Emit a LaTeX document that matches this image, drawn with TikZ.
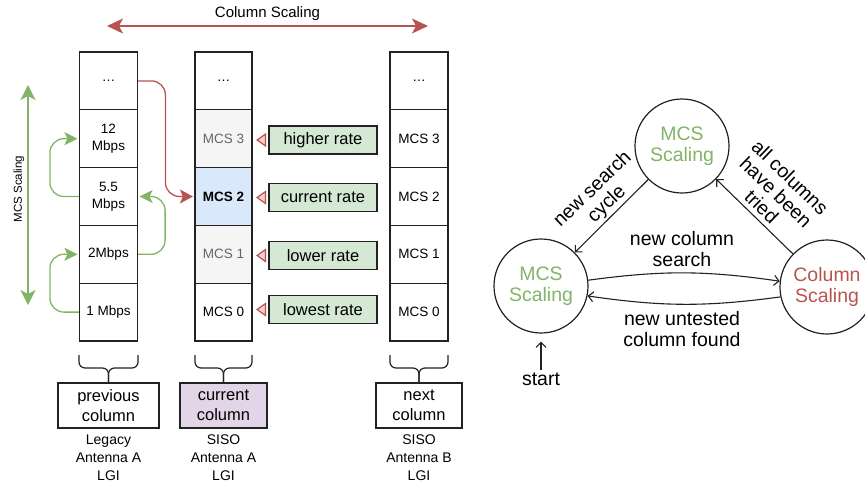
\documentclass[tikz,border=0pt]{standalone}
\usepackage{fontspec}
\setmainfont{Liberation Sans}
\usetikzlibrary{arrows.meta,calc}
\definecolor{dgreen}{HTML}{82B366}
\definecolor{dred}{HTML}{B85450}
\definecolor{lgreen}{HTML}{D5E8D4}
\definecolor{lblue}{HTML}{DAE8FC}
\definecolor{lgray}{HTML}{F5F5F5}
\definecolor{lpurple}{HTML}{E1D5E7}
\definecolor{lred}{HTML}{F8CECC}
\definecolor{tgray}{HTML}{666666}
\definecolor{bord}{HTML}{222222}
\begin{document}
\begin{tikzpicture}[x=1pt,y=-1pt,
  cellbox/.style={draw=bord, line width=1.2pt, minimum width=58pt, minimum height=57.8pt, inner sep=0pt, align=center, font=\fontsize{13.5}{17}\selectfont},
  ratebox/.style={draw=bord, fill=lgreen, line width=1.2pt, minimum width=108pt, minimum height=28pt, inner sep=0pt, font=\fontsize{16.5}{20}\selectfont},
  colbox/.style={draw=bord, line width=1.2pt, minimum height=45pt, inner sep=0pt, align=center, font=\fontsize{16.5}{20}\selectfont},
  undertext/.style={align=center, inner sep=0pt, font=\fontsize{14}{18}\selectfont},
  ratearrow/.style={draw=dred, line width=1.2pt, -{Triangle[length=10pt,width=14pt,fill=lred]}, shorten <=3.5pt, shorten >=3.5pt},
  greenarrow/.style={draw=dgreen, line width=1.3pt, rounded corners=14pt, -{Stealth[length=13pt,width=13pt,inset=3pt]}, shorten >=1.5pt},
  bracepath/.style={draw=bord, line width=1.2pt, rounded corners=6pt},
  state/.style={circle, draw=bord, line width=1.2pt, minimum size=94pt, inner sep=0pt, align=center, font=\fontsize{19.5}{20.5}\selectfont},
  trans/.style={draw=bord, line width=1.1pt, -{Straight Barb[length=5pt,width=10pt]}},
  translabel/.style={align=center, inner sep=0pt, font=\fontsize{19.5}{20.5}\selectfont}
]
\useasboundingbox (0,0) rectangle (865,485);

% column scaling arrow
\coordinate (csl) at (107,26);
\coordinate (csr) at (428,26);
\draw[dred, line width=1.3pt, {Stealth[length=16pt,width=15pt,inset=4pt]}-{Stealth[length=16pt,width=15pt,inset=4pt]}] (csl) -- (csr);
\node[inner sep=0pt, font=\fontsize{15}{18}\selectfont] (cstext) at (267.5,14) {Column Scaling};

% MCS scaling arrow
\coordinate (mst) at (28,85);
\coordinate (msb) at (28,305);
\draw[dgreen, line width=1.3pt, {Stealth[length=15pt,width=15pt,inset=4pt]}-{Stealth[length=15pt,width=15pt,inset=4pt]}] (mst) -- (msb);
\node[inner sep=0pt, rotate=90, font=\fontsize{11.5}{14}\selectfont] (mstext) at (19,189) {MCS Scaling};

% previous column
\node[cellbox] (a4) at (108.5,80.9) {\ldots};
\node[cellbox] (a3) at (108.5,138.7) {12\\Mbps};
\node[cellbox] (a2) at (108.5,196.5) {5.5\\Mbps};
\node[cellbox] (a1) at (108.5,254.3) {2Mbps};
\node[cellbox] (a0) at (108.5,312.1) {1 Mbps};

% current column
\node[cellbox, minimum width=57pt] (b4) at (223.5,80.9) {\ldots};
\node[cellbox, minimum width=57pt, fill=lgray, text=tgray] (b3) at (223.5,138.7) {MCS 3};
\node[cellbox, minimum width=57pt, fill=lblue, font=\fontsize{13.5}{17}\selectfont\bfseries] (b2) at (223.5,196.5) {MCS 2};
\node[cellbox, minimum width=57pt, fill=lgray, text=tgray] (b1) at (223.5,254.3) {MCS 1};
\node[cellbox, minimum width=57pt] (b0) at (223.5,312.1) {MCS 0};

% next column
\node[cellbox] (c4) at (419,80.9) {\ldots};
\node[cellbox] (c3) at (419,138.7) {MCS 3};
\node[cellbox] (c2) at (419,196.5) {MCS 2};
\node[cellbox] (c1) at (419,254.3) {MCS 1};
\node[cellbox] (c0) at (419,312.1) {MCS 0};

% rate labels
\node[ratebox] (g3) at (323,140) {higher rate};
\node[ratebox] (g2) at (323,197.5) {current rate};
\node[ratebox] (g1) at (323,255.5) {lower rate};
\node[ratebox] (g0) at (323,309.5) {lowest rate};
\draw[ratearrow] (g3.west) -- (g3.west -| b3.east);
\draw[ratearrow] (g2.west) -- (g2.west -| b2.east);
\draw[ratearrow] (g1.west) -- (g1.west -| b1.east);
\draw[ratearrow] (g0.west) -- (g0.west -| b0.east);

% green MCS arrows
\draw[greenarrow] (a0.west) -- ++(-29,0) |- (a1.west);
\draw[greenarrow] (a2.west) -- ++(-29,0) |- (a3.west);
\draw[greenarrow] (a1.east) -- ++(27,0) |- (a2.east);

% red column arrow
\draw[dred, line width=1.3pt, rounded corners=14pt, -{Stealth[length=13pt,width=14pt,inset=3pt]}, shorten >=1.5pt] (a4.east) -| ($(b2.west)+(-29,0)$) -- (b2.west);

% braces
\draw[bracepath] (79,355) -- (79,368) -- (108.5,368) -- (108.5,383);
\draw[bracepath] (138,355) -- (138,368) -- (108.5,368) -- (108.5,383);
\draw[bracepath] (195,355) -- (195,368) -- (223.5,368) -- (223.5,383);
\draw[bracepath] (252,355) -- (252,368) -- (223.5,368) -- (223.5,383);
\draw[bracepath] (390,355) -- (390,368) -- (419,368) -- (419,383);
\draw[bracepath] (448,355) -- (448,368) -- (419,368) -- (419,383);

% column boxes
\node[colbox, minimum width=101pt] (pcol) at (108.5,405.5) {previous\\column};
\node[colbox, minimum width=87pt, fill=lpurple] (ccol) at (223.5,405.5) {current\\column};
\node[colbox, minimum width=86pt] (ncol) at (419,405.5) {next\\column};
\node[undertext] (pdesc) at (108.5,458) {Legacy\\Antenna A\\LGI};
\node[undertext] (cdesc) at (223.5,458) {SISO\\Antenna A\\LGI};
\node[undertext] (ndesc) at (419,458) {SISO\\Antenna B\\LGI};

% state diagram
\node[state, text=dgreen] (T) at (682,146) {MCS\\Scaling};
\node[state, text=dgreen] (L) at (541,286) {MCS\\Scaling};
\node[state, text=dred] (R) at (827,287) {Column\\Scaling};
\draw[trans] (T) -- (L);
\draw[trans] (R) -- (T);
\draw[trans] (L.7) to[bend left=8] (R.173);
\draw[trans] (R.192) to[bend left=8] (L.348);
\node[translabel] (l1) at (682,249) {new column\\search};
\node[translabel] (l2) at (682,329) {new untested\\column found};
\node[translabel, rotate=44] (l3) at (600,197) {new search\\cycle};
\node[translabel, rotate=-44] (l4) at (776,192) {all columns\\have been\\tried};
\node[translabel] (st) at (541,379) {start};
\draw[trans] (st.north) -- (L.south) [shorten >=8pt, shorten <=2pt];
\end{tikzpicture}
\end{document}
